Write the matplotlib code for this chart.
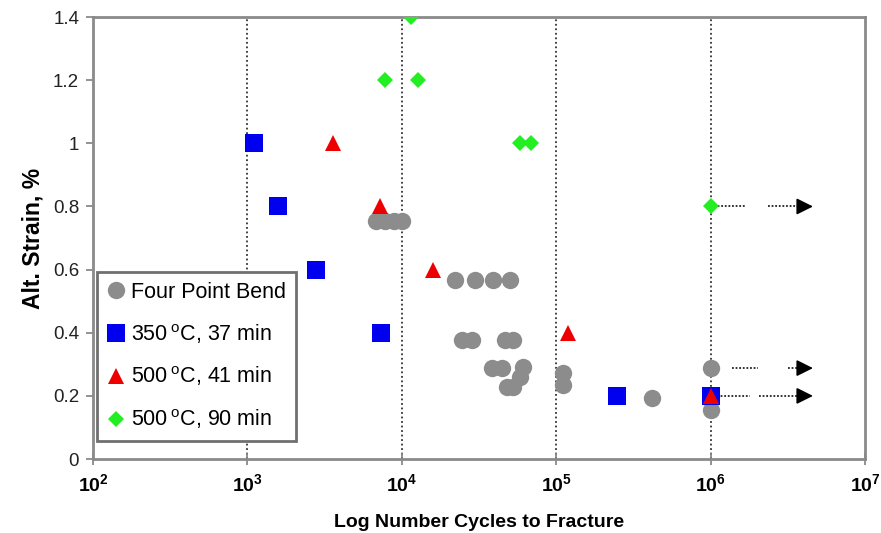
import matplotlib
matplotlib.use('Agg')
import matplotlib.pyplot as plt

plt.rcParams['font.family'] = ['Liberation Sans', 'DejaVu Sans']
plt.rcParams['mathtext.fontset'] = 'custom'
plt.rcParams['mathtext.rm'] = 'Liberation Sans'
plt.rcParams['mathtext.bf'] = 'Liberation Sans:bold'

# Four point bend data
fpb_cycles = [6.8e3, 7.8e3, 8.9e3, 1.0e4,
              2.2e4, 3.0e4, 3.9e4, 5.0e4,
              2.46e4, 2.85e4, 4.66e4, 5.25e4,
              3.84e4, 4.45e4, 6.1e4,
              5.8e4, 5.25e4, 4.8e4,
              1.1e5, 1.1e5,
              4.2e5,
              1e6, 1e6, 1e6]
fpb_strain = [0.755, 0.755, 0.755, 0.755,
              0.567, 0.567, 0.567, 0.567,
              0.377, 0.377, 0.377, 0.377,
              0.288, 0.288, 0.29,
              0.26, 0.228, 0.228,
              0.272, 0.234,
              0.193,
              0.288, 0.2, 0.155]

# 350C, 37 min
s350_cycles = [1.1e3, 1.58e3, 2.78e3, 7.3e3, 2.48e5, 1e6]
s350_strain = [1.0, 0.8, 0.6, 0.4, 0.2, 0.2]

# 500C, 41 min
s500a_cycles = [3.6e3, 7.2e3, 1.6e4, 1.19e5, 1e6]
s500a_strain = [1.0, 0.8, 0.6, 0.4, 0.2]

# 500C, 90 min
s500b_cycles = [1.15e4, 7.8e3, 1.27e4, 5.8e4, 6.9e4, 1e6]
s500b_strain = [1.4, 1.2, 1.2, 1.0, 1.0, 0.8]

# run-out arrows (dotted pieces, then arrow head)
runout_strain = [0.8, 0.288, 0.2]
runout_pieces = [[(1.05e6, 1.66e6), (2.35e6, 4.2e6)],
                 [(1.38e6, 2.03e6), (3.17e6, 4.2e6)],
                 [(1.1e6, 1.8e6), (2.06e6, 4.2e6)]]
runout_tip = 4.8e6

xtick_vals = [1e2, 1e3, 1e4, 1e5, 1e6, 1e7]
xtick_labels = [r'$\mathbf{10^{%d}}$' % e for e in range(2, 8)]
ytick_vals = [0, 0.2, 0.4, 0.6, 0.8, 1.0, 1.2, 1.4]
ytick_labels = ['0', '0.2', '0.4', '0.6', '0.8', '1', '1.2', '1.4']

fig = plt.figure(figsize=(8.81, 5.33), dpi=100)
ax = fig.add_axes([0.1056, 0.1388, 0.8762, 0.8292])

ax.set_xscale('log')
ax.set_xlim(1e2, 1e7)
ax.set_ylim(0, 1.4)

for xv in xtick_vals[1:-1]:
    ax.axvline(xv, color='#333333', linestyle=(0, (1, 1.5)), linewidth=1.3, zorder=1)

for y, pieces in zip(runout_strain, runout_pieces):
    for a, b in pieces:
        ax.plot([a, b], [y, y], color='#222222', linestyle=(0, (1, 1)), linewidth=1.3, zorder=2)
    ax.annotate('', xy=(runout_tip, y), xytext=(4.0e6, y),
                arrowprops=dict(arrowstyle='-|>,head_length=1.0,head_width=0.5',
                                color='black', lw=1.2), zorder=2)

ax.plot(fpb_cycles, fpb_strain, 'o', color='#8c8c8c', markersize=12.5,
        markeredgewidth=0, label='Four Point Bend', zorder=3)
ax.plot(s350_cycles, s350_strain, 's', color='#0000ee', markersize=12.5,
        markeredgewidth=0, label='350$\\,^{\\mathrm{o}}$C, 37 min', zorder=4)
ax.plot(s500a_cycles, s500a_strain, '^', color='#ee0000', markersize=11,
        markeredgewidth=0, label='500$\\,^{\\mathrm{o}}$C, 41 min', zorder=5)
ax.plot(s500b_cycles, s500b_strain, 'D', color='#22ee22', markersize=8.5,
        markeredgewidth=0, label='500$\\,^{\\mathrm{o}}$C, 90 min', zorder=6)

ax.set_xticks(xtick_vals)
ax.set_xticklabels(xtick_labels, fontsize=14)
ax.xaxis.set_minor_locator(matplotlib.ticker.NullLocator())
ax.set_yticks(ytick_vals)
ax.set_yticklabels(ytick_labels, fontsize=13.5, color='#222222')
ax.tick_params(direction='out', length=5, width=1.2, color='#808080', pad=5)
ax.tick_params(axis='x', direction='inout', length=8, pad=6)

for s in ax.spines.values():
    s.set_color('#8a8a8a')
    s.set_linewidth(2)

ax.set_xlabel('Log Number Cycles to Fracture', fontsize=14, fontweight='bold', labelpad=14)
ax.set_ylabel('Alt. Strain, %', fontsize=16.5, fontweight='bold', labelpad=6)

leg = ax.legend(loc='lower left', bbox_to_anchor=(0.005, 0.041), fontsize=15.5,
                frameon=True, fancybox=False, handlelength=0.9, handletextpad=0.25,
                borderpad=0.45, labelspacing=0.88, borderaxespad=0)
leg.get_frame().set_edgecolor('#707070')
leg.get_frame().set_linewidth(2)
leg.get_frame().set_alpha(1)

fig.savefig('out.png', dpi=100)
